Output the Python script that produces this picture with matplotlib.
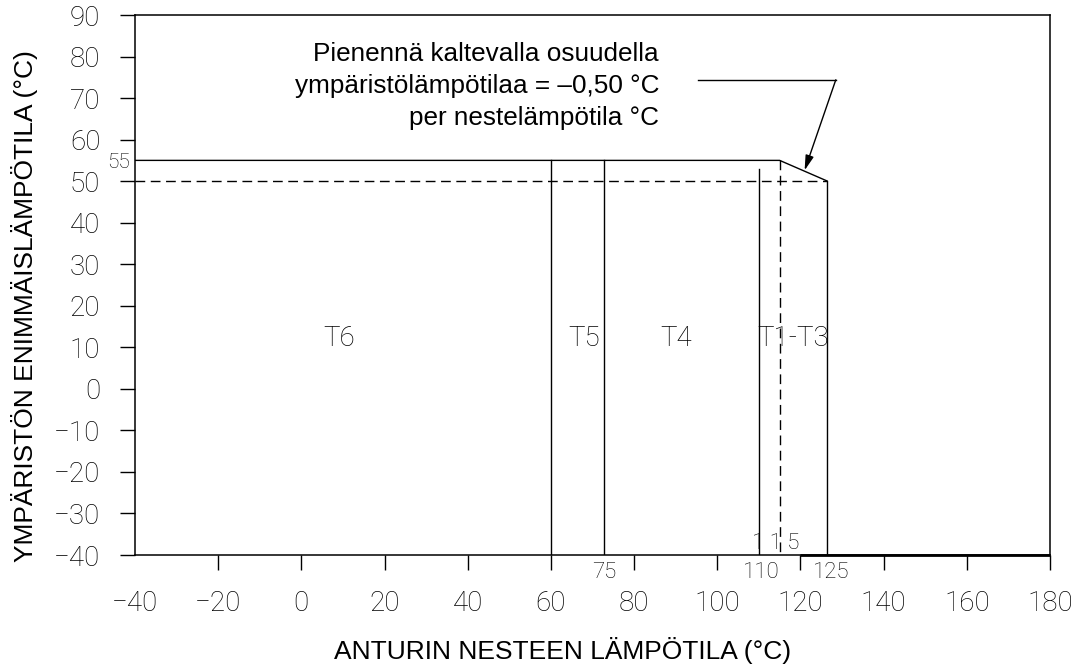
import matplotlib
matplotlib.use("Agg")
import matplotlib.pyplot as plt

# akselit
x_ticks = [-40, -20, 0, 20, 40, 60, 80, 100, 120, 140, 160, 180]
y_ticks = [-40, -30, -20, -10, 0, 10, 20, 30, 40, 50, 60, 70, 80, 90]

# rajakäyrä (nestelämpötila, ympäristölämpötila) luettu kuvasta
raja_x = [-40, 115, 126.5, 126.5]
raja_y = [55, 55, 50, -40]
katko_vaaka_x = [-40, 126.5]
katko_vaaka_y = [50, 50]
katko_pysty_x = [115, 115]
katko_pysty_y = [55, -40]

# lämpöluokkien rajat: x, yläpää
luokka_rajat = [(60, 55), (72.8, 55), (110, 53)]

luokat = ["T6", "T5", "T4", "T1-T3"]
luokka_x = [9.0, 67.9, 90.2, 118.3]
luokka_y = 12

arvot = ["75", "110", "125"]
arvo_x = [72.8, 110.5, 127.3]

cad = dict(family="Roboto", weight="light", color="black")
helv = dict(family="Liberation Sans")

fig = plt.figure(figsize=(10.8, 6.67), dpi=100)
ax = fig.add_axes([135/1080, 112/667, 915/1080, 540/667])

ax.plot(raja_x, raja_y, color="black", lw=1.0)
ax.plot(katko_vaaka_x, katko_vaaka_y, color="black", lw=1.0, dashes=(7, 4))
ax.plot(katko_pysty_x, katko_pysty_y, color="black", lw=1.0, dashes=(7, 4))
for xv, ytop in luokka_rajat:
    ax.plot([xv, xv], [-40, ytop], color="black", lw=1.0)
ax.plot([120, 180], [-40, -40], color="black", lw=2.0, solid_capstyle="butt", clip_on=False)

for nimi, xv in zip(luokat, luokka_x):
    ax.text(xv, luokka_y, nimi, ha="center", va="center", fontsize=20, **cad)

for a, xv in zip(arvot, arvo_x):
    ax.text(xv, -44.3, a, ha="center", va="center", fontsize=16, clip_on=False, **cad)
ax.text(114.1, -37.3, "1 1 5", ha="center", va="center", fontsize=16, **cad)
ax.text(-41.3, 54.6, "55", ha="right", va="center", fontsize=15, clip_on=False, **cad)

# selite ja nuoli
ax.text(86.0, 72.9, "Pienennä kaltevalla osuudella\nympäristölämpötilaa = \u20130,50 °C\nper nestelämpötila °C",
        ha="right", va="center", fontsize=18.8, linespacing=1.42, **helv)
ax.plot([95.4, 128.5], [74.4, 74.4], color="black", lw=1.0)
ax.annotate("", xy=(121.0, 52.6), xytext=(128.5, 74.4),
            arrowprops=dict(arrowstyle="-|>,head_length=0.9,head_width=0.25", color="black", lw=1.0,
                            shrinkA=0, shrinkB=0))

ax.set_xlim(-40, 180)
ax.set_ylim(-40, 90)
ax.set_xticks(x_ticks)
ax.set_yticks(y_ticks)
ax.set_xticklabels([str(v).replace("-", "\u2212") for v in x_ticks], fontsize=20, **cad)
ax.set_yticklabels([str(v).replace("-", "\u2212") for v in y_ticks], fontsize=20, **cad)
ax.tick_params(direction="out", length=11, width=1.0, pad=14)
ax.xaxis.get_major_ticks()[0].tick1line.set_visible(False)
for s in ax.spines.values():
    s.set_linewidth(1.1)

fig.text(563/1080, (667-650)/667, "ANTURIN NESTEEN LÄMPÖTILA (°C)", ha="center", va="center",
         fontsize=19, **helv)
fig.text(25/1080, (667-306)/667, "YMPÄRISTÖN ENIMMÄISLÄMPÖTILA (°C)", ha="center", va="center",
         rotation=90, fontsize=19, **helv)

fig.savefig("out.png", dpi=100, facecolor="white")
